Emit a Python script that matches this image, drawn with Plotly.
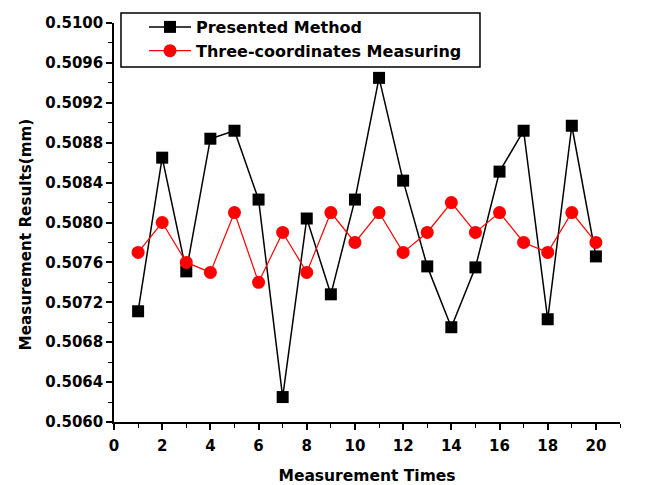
import plotly.graph_objects as go

times = list(range(1, 21))
presented = [0.50711, 0.50865, 0.50751, 0.50884, 0.50892, 0.50823, 0.50625, 0.50804, 0.50728, 0.50823,
             0.50945, 0.50842, 0.50756, 0.50695, 0.50755, 0.50851, 0.50892, 0.50703, 0.50897, 0.50766]
three_coord = [0.5077, 0.5080, 0.5076, 0.5075, 0.5081, 0.5074, 0.5079, 0.5075, 0.5081, 0.5078,
               0.5081, 0.5077, 0.5079, 0.5082, 0.5079, 0.5081, 0.5078, 0.5077, 0.5081, 0.5078]
y_ticks = [0.5060, 0.5064, 0.5068, 0.5072, 0.5076, 0.5080, 0.5084, 0.5088, 0.5092, 0.5096, 0.5100]
y_ticklabels = ["%.4f" % v for v in y_ticks]
x_ticks = list(range(0, 21, 2))

font = "DejaVu Sans, Arial, sans-serif"

fig = go.Figure()
fig.add_trace(go.Scatter(
    x=times, y=presented, mode="lines+markers", name="<b>Presented Method</b>",
    line=dict(color="black", width=1.5),
    marker=dict(symbol="square", size=12, color="black"),
))
fig.add_trace(go.Scatter(
    x=times, y=three_coord, mode="lines+markers", name="<b>Three-coordinates Measuring</b>",
    line=dict(color="#ff0000", width=1.2),
    marker=dict(symbol="circle", size=13, color="#ff0000"),
))

# legend frame
fig.add_shape(type="rect", xref="paper", yref="paper",
              x0=0.0138, x1=0.7233, y0=0.8897, y1=1.0251,
              line=dict(color="black", width=1.5), layer="above")

fig.update_layout(
    width=648, height=477,
    margin=dict(l=106, r=36, t=15, b=63, autoexpand=False),
    paper_bgcolor="white", plot_bgcolor="white",
    font=dict(family=font, size=15, color="black"),
    showlegend=True,
    legend=dict(
        x=0.0593, y=1.0326, xanchor="left", yanchor="top",
        borderwidth=0, bgcolor="rgba(0,0,0,0)",
        font=dict(size=16, family=font, color="black"),
        tracegroupgap=0, itemwidth=42,
    ),
    xaxis=dict(
        range=[0, 21], tickvals=x_ticks, ticktext=["<b>%d</b>" % v for v in x_ticks],
        showline=True, linecolor="black", linewidth=1.5,
        ticks="outside", ticklen=6, tickwidth=1.5, tickcolor="black",
        minor=dict(ticks="outside", dtick=1, tick0=0, ticklen=4, tickwidth=1.2, tickcolor="black"),
        showgrid=False, zeroline=False,
        tickfont=dict(size=15, family=font),
        ticklabelstandoff=3,
        title=dict(text="<b>Measurement Times</b>", font=dict(size=15.5, family=font), standoff=18),
    ),
    yaxis=dict(
        range=[0.5060, 0.5100], tickvals=y_ticks, ticktext=["<b>%s</b>" % t for t in y_ticklabels],
        showline=True, linecolor="black", linewidth=1.5,
        ticks="outside", ticklen=6, tickwidth=1.5, tickcolor="black",
        minor=dict(ticks="outside", dtick=0.0002, tick0=0.5060, ticklen=4, tickwidth=1.2, tickcolor="black"),
        showgrid=False, zeroline=False,
        tickfont=dict(size=15, family=font),
        title=dict(text="<b>Measurement Results(mm)</b>" + "&nbsp;" * 5,
                   font=dict(size=15.2, family=font), standoff=10),
    ),
)

fig.write_html("out.html")
